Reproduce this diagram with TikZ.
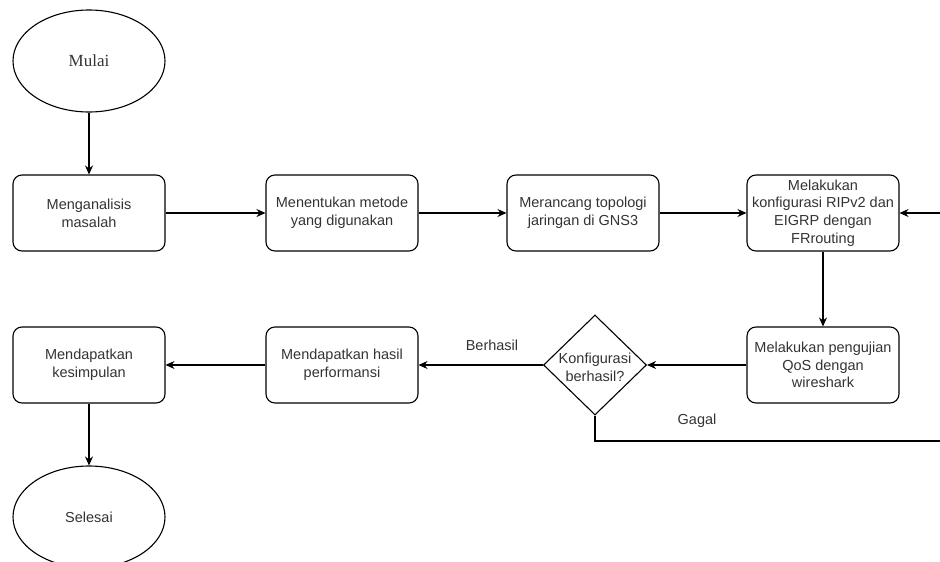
\documentclass[tikz,border=0pt]{standalone}
\usepackage{fontspec}
\setmainfont{Liberation Sans}
\newfontfamily\hurufserif{Liberation Serif}
\usetikzlibrary{shapes.geometric, arrows.meta}

\begin{document}
\begin{tikzpicture}[x=1pt, y=-1pt,
        every node/.style={text=black!80, font=\fontsize{14.5}{17.8}\selectfont},
        proses/.style={draw, rounded corners=9pt, line width=1.1pt, minimum width=152pt, minimum height=76pt, align=center, inner sep=0pt},
        terminal/.style={draw, ellipse, line width=1.1pt, minimum width=152pt, minimum height=102pt, inner sep=0pt},
        keputusan/.style={draw, diamond, line width=1.1pt, minimum width=103pt, minimum height=100pt, inner sep=0pt},
        panah/.style={-{Stealth[length=9pt, width=8pt]}, line width=1.1pt}]
            \useasboundingbox (0,0) rectangle (940,562);
            \clip (0,0) rectangle (940,562);
            \node[terminal, font=\hurufserif\fontsize{17}{20}\selectfont] (mulai) at (89,61) {Mulai};
            \node[proses] (analisis) at (89,213) {Menganalisis\\masalah};
            \node[proses] (metode) at (342,213) {Menentukan metode\\yang digunakan};
            \node[proses] (topologi) at (583,213) {Merancang topologi\\jaringan di GNS3};
            \node[proses] (konfig) at (823,213) {Melakukan\\konfigurasi RIPv2 dan\\EIGRP dengan\\FRrouting};
            \node[proses] (uji) at (823,365) {Melakukan pengujian\\QoS dengan\\wireshark};
            \node[keputusan] (cek) at (595,365) {};
            \node[align=center] (cekteks) at (595,367) {Konfigurasi\\berhasil?};
            \node[proses] (hasil) at (342,365) {Mendapatkan hasil\\performansi};
            \node[proses] (simpulan) at (89,365) {Mendapatkan\\kesimpulan};
            \node[terminal] (selesai) at (89,517) {Selesai};
            \coordinate (balik) at (946,441);
            \draw[panah] (mulai) -- (analisis);
            \draw[panah] (analisis) -- (metode);
            \draw[panah] (metode) -- (topologi);
            \draw[panah] (topologi) -- (konfig);
            \draw[panah] (konfig) -- (uji);
            \draw[panah] (uji) -- (cek);
            \draw[panah] (cek) -- (hasil);
            \draw[panah] (hasil) -- (simpulan);
            \draw[panah] (simpulan) -- (selesai);
            \draw[panah] (cek.south) |- (balik) |- (konfig.east);
            \node (berhasil) at (492,345) {Berhasil};
            \node (gagal) at (697,421) {Gagal};
        \end{tikzpicture}
\end{document}
